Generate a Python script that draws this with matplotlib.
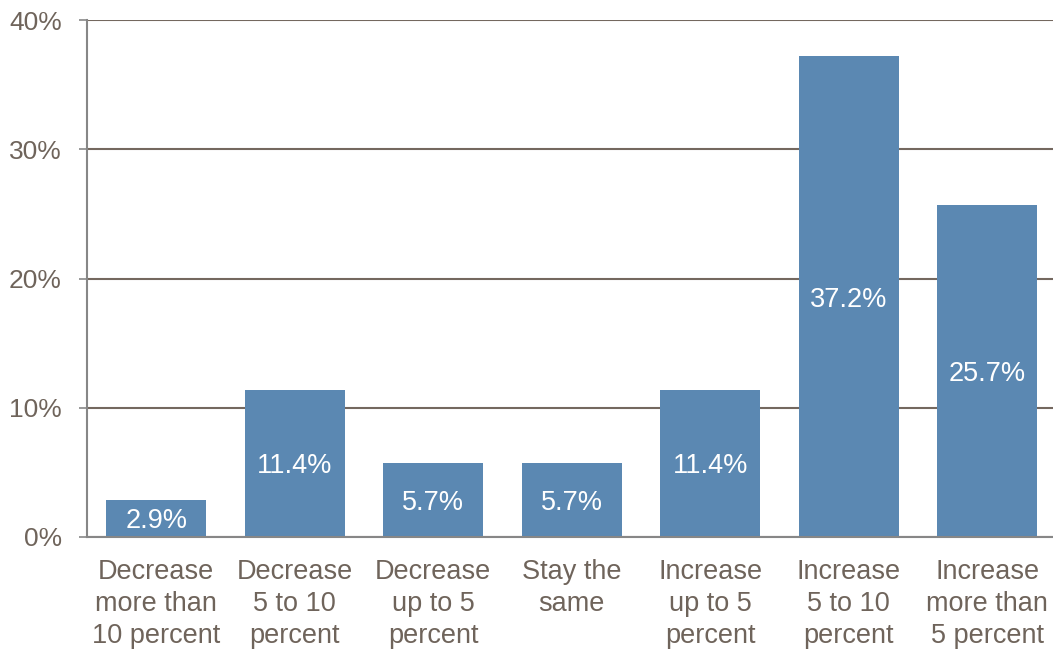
import numpy as np
import matplotlib.pyplot as plt
from matplotlib.ticker import PercentFormatter

categories = ["Decrease\nmore than\n10 percent", "Decrease\n5 to 10\npercent",
              "Decrease\nup to 5\npercent", "Stay the\nsame",
              "Increase\nup to 5\npercent", "Increase\n5 to 10\npercent",
              "Increase\nmore than\n5 percent"]
values = [2.9, 11.4, 5.7, 5.7, 11.4, 37.2, 25.7]

bar_color = "#5b88b2"
text_color = "#6f645b"
grid_color = "#74685f"
axis_color = "#878787"

plt.rcParams['font.family'] = ['Liberation Sans', 'DejaVu Sans']

fig = plt.figure(figsize=(10.53, 6.49), dpi=100)
W, H = 1053, 649
ax = fig.add_axes([87 / W, (H - 537) / H, 969.5 / W, (537 - 20) / H])

x = np.arange(len(values))
bars = ax.bar(x, values, width=0.72, color=bar_color, zorder=3)
for b, v in zip(bars, values):
    ax.text(b.get_x() + b.get_width() / 2, v / 2, f"{v:.1f}%", ha="center", va="center_baseline",
            color="white", fontsize=19.5, zorder=4)

ax.set_xlim(-0.5, len(values) - 0.5)
ax.set_ylim(0, 40)
ax.set_yticks([0, 10, 20, 30, 40])
ax.yaxis.set_major_formatter(PercentFormatter(decimals=0))
ax.set_xticks(x)
ax.set_xticklabels(categories, fontsize=19.5, color=text_color, linespacing=1.3)
ax.tick_params(axis="x", length=0, pad=15.5)
ax.tick_params(axis="y", labelsize=19, labelcolor=text_color, length=6, width=1.2,
               color=axis_color, pad=12)

ax.grid(axis="y", color=grid_color, linewidth=1.5, zorder=0)
for s in ["top", "right"]:
    ax.spines[s].set_visible(False)
ax.spines["left"].set_color(axis_color)
ax.spines["left"].set_linewidth(1.5)
ax.spines["bottom"].set_color(axis_color)
ax.spines["bottom"].set_linewidth(1.5)
ax.spines["bottom"].set_zorder(5)

fig.savefig("out.png", dpi=100)
